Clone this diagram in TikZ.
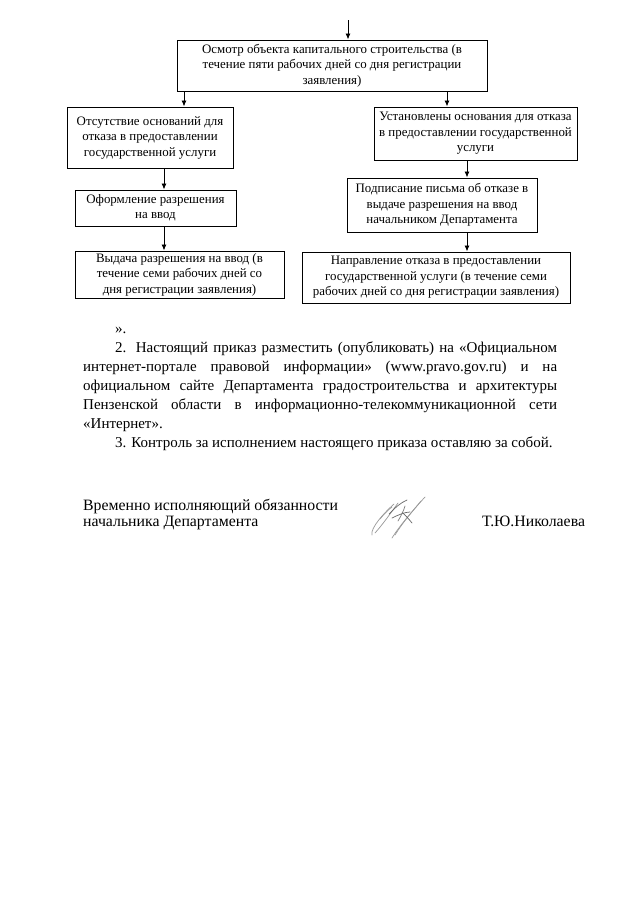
\documentclass[tikz,border=0pt]{standalone}
\usepackage{fontspec}
\setmainfont{Liberation Serif}
\usetikzlibrary{arrows.meta}
\begin{document}
\begin{tikzpicture}[x=1pt,y=-1pt,
  box/.style={draw,line width=1pt,inner sep=0pt,align=center,font=\fontsize{12.9}{15.5}\selectfont},
  arr/.style={-{Latex[length=6pt,width=5pt]},line width=0.9pt},
  body/.style={anchor=base west,inner sep=0pt,font=\fontsize{15}{19}\selectfont},
  sigtext/.style={anchor=base west,inner sep=0pt,font=\fontsize{15.8}{16}\selectfont},
  sig/.style={draw=black!40,line width=0.7pt,line cap=round},
]
\useasboundingbox (0,0) rectangle (640,905);
\fill[white] (0,0) rectangle (640,905);

% flow chart
\coordinate (start) at (348,20);
\node[box,minimum width=310,minimum height=51] (b1) at (332,65.5)
  {Осмотр объекта капитального строительства (в\\течение пяти рабочих дней со дня регистрации\\заявления)};
\node[box,minimum width=166,minimum height=61] (l2) at (150,137.5)
  {Отсутствие оснований для\\отказа в предоставлении\\государственной услуги};
\node[box,minimum width=203,minimum height=53] (r2) at (475.5,133.5)
  {Установлены основания для отказа\\в предоставлении государственной\\услуги};
\node[box,minimum width=161,minimum height=36] (l3) at (155.5,208)
  {Оформление разрешения\\на ввод};
\node[box,minimum width=190,minimum height=54] (r3) at (442,205)
  {Подписание письма об отказе в\\выдаче разрешения на ввод\\начальником Департамента};
\node[box,minimum width=209,minimum height=47] (l4) at (179.5,274.5)
  {Выдача разрешения на ввод (в\\течение семи рабочих дней со\\дня регистрации заявления)};
\node[box,minimum width=268,minimum height=51] (r4) at (436,277.5)
  {Направление отказа в предоставлении\\государственной услуги (в течение семи\\рабочих дней со дня регистрации заявления)};

\draw[arr] (start) -- (b1.north -| start);
\draw[arr] (b1.south -| 184,0) -- (l2.north -| 184,0);
\draw[arr] (b1.south -| 447,0) -- (r2.north -| 447,0);
\draw[arr] (l2.south -| 164,0) -- (l3.north -| 164,0);
\draw[arr] (l3.south -| 164,0) -- (l4.north -| 164,0);
\draw[arr] (r2.south -| 467,0) -- (r3.north -| 467,0);
\draw[arr] (r3.south -| 467,0) -- (r4.north -| 467,0);

% body text
\node[body] (t0) at (115,333) {».};
\node[body] (t1) at (115,352) {\makebox[442pt][s]{2. Настоящий приказ разместить (опубликовать) на «Официальном}};
\node[body] (t2) at (83,371) {\makebox[474pt][s]{интернет-портале правовой информации» (www.pravo.gov.ru) и на}};
\node[body] (t3) at (83,390) {\makebox[474pt][s]{официальном сайте Департамента градостроительства и архитектуры}};
\node[body] (t4) at (83,409) {\makebox[474pt][s]{Пензенской области в информационно-телекоммуникационной сети}};
\node[body] (t5) at (83,428) {«Интернет».};
\node[body] (t6) at (115,447) {3. Контроль за исполнением настоящего приказа оставляю за собой.};

% signature block
\node[sigtext] (s1) at (83,510) {Временно исполняющий обязанности};
\node[sigtext] (s2) at (83,526) {начальника Департамента};
\node[sigtext] (s3) at (482,526) {Т.Ю.Николаева};

% handwritten signature
\draw[sig] (372,535) .. controls (370,528) and (385,512) .. (394,504);
\draw[sig] (375,533) .. controls (383,524) and (390,514) .. (398,503);
\draw[sig] (392,538) .. controls (400,525) and (415,508) .. (425,497);
\draw[sig] (395,535) .. controls (403,522) and (412,512) .. (421,501);
\draw[sig] (380,519) .. controls (384,514) and (388,510) .. (392,507);
\draw[sig,draw=black!60] (389,514) .. controls (395,508) and (400,503) .. (407,500);
\draw[sig,draw=black!60] (392,518) .. controls (398,515) and (405,512) .. (410,512);
\draw[sig,draw=black!60] (402,512) .. controls (405,515) and (408,518) .. (412,523);
\draw[sig,draw=black!50] (398,521) .. controls (401,516) and (404,510) .. (405,506);
\end{tikzpicture}
\end{document}
